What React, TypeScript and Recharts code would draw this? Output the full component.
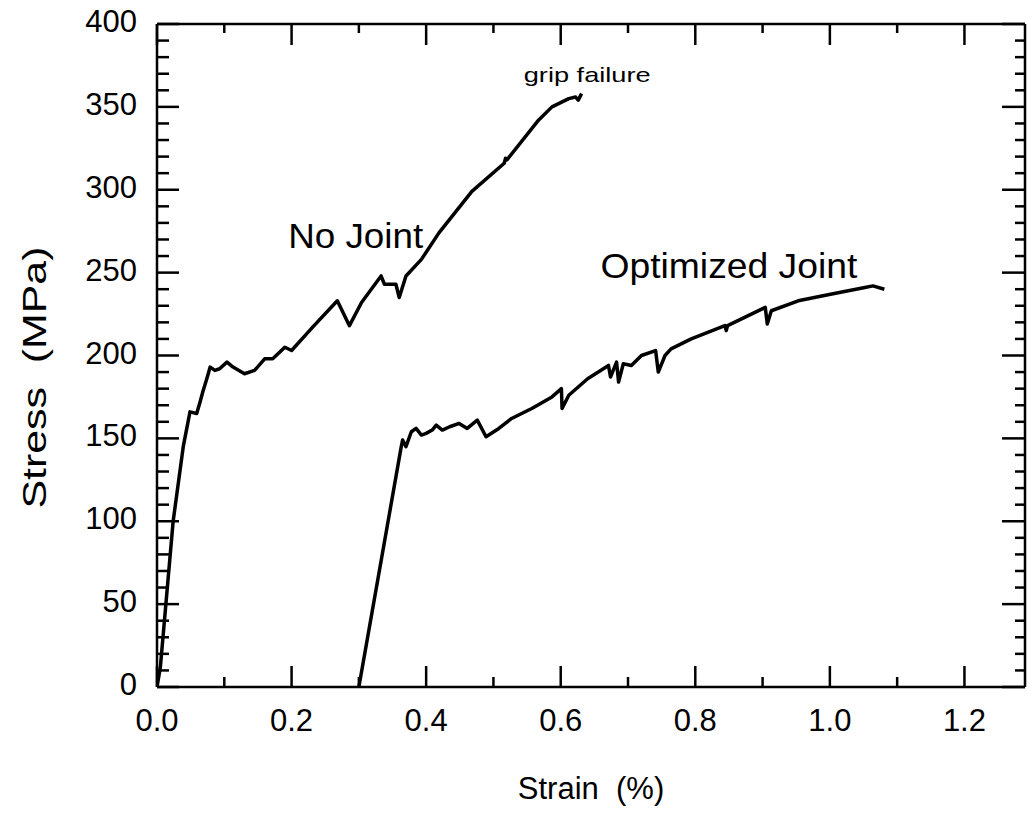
import React from 'react';
import { LineChart, Line, XAxis, YAxis, ReferenceDot, Label } from 'recharts';

const FONT = "'Liberation Sans', Arial, Helvetica, sans-serif";

// No Joint curve (strain %, stress MPa)
const noJointStrain = [0.0, 0.005, 0.024, 0.039, 0.049, 0.059, 0.064, 0.068, 0.074, 0.079, 0.086, 0.093, 0.104, 0.113, 0.13, 0.145, 0.16, 0.172, 0.19, 0.2, 0.231, 0.268, 0.286, 0.304, 0.333, 0.338, 0.355, 0.36, 0.37, 0.393, 0.419, 0.468, 0.516, 0.518, 0.52, 0.567, 0.587, 0.612, 0.622, 0.626, 0.631];
const noJointStress = [0, 12, 100, 145, 166, 165, 172, 178, 186, 193, 191, 192, 196, 193, 189, 191, 198, 198, 205, 203, 217, 233, 218, 232, 248, 243, 243, 235, 248, 258, 274, 299, 316, 319, 318, 342, 350, 355, 356, 354, 358];

// Optimized Joint curve
const optStrain = [0.3, 0.363, 0.365, 0.37, 0.378, 0.385, 0.393, 0.4, 0.409, 0.415, 0.424, 0.435, 0.449, 0.461, 0.476, 0.489, 0.508, 0.527, 0.557, 0.587, 0.601, 0.602, 0.612, 0.64, 0.671, 0.674, 0.678, 0.683, 0.686, 0.693, 0.705, 0.72, 0.741, 0.745, 0.755, 0.764, 0.794, 0.844, 0.846, 0.848, 0.904, 0.907, 0.913, 0.953, 1.001, 1.052, 1.064, 1.081];
const optStress = [0, 145, 149, 145, 154, 156, 152, 153, 155, 158, 155, 157, 159, 156, 161, 151, 156, 162, 168, 175, 180, 168, 176, 186, 194, 187, 191, 196, 184, 195, 194, 200, 203, 190, 200, 204, 210, 218, 215, 218, 229, 219, 227, 233, 237, 241, 242, 240];

const xTicks = [0, 0.1, 0.2, 0.3, 0.4, 0.5, 0.6, 0.7, 0.8, 0.9, 1.0, 1.1, 1.2];
const yTicks = [0, 10, 20, 30, 40, 50, 60, 70, 80, 90, 100, 110, 120, 130, 140, 150, 160, 170, 180, 190, 200, 210, 220, 230, 240, 250, 260, 270, 280, 290, 300, 310, 320, 330, 340, 350, 360, 370, 380, 390, 400];

const noJointData = noJointStrain.map((s, i) => ({ strain: s, stress: noJointStress[i] }));
const optData = optStrain.map((s, i) => ({ strain: s, stress: optStress[i] }));

const isMajorX = (v: number) => Math.round(v * 10) % 2 === 0;
const isMajorY = (v: number) => Math.round(v) % 50 === 0;

const BottomTick = (props: any) => {
  const { x, y, payload } = props;
  const major = isMajorX(payload.value);
  return (
    <g>
      <line x1={x} y1={y} x2={x} y2={y - (major ? 21 : 10)} stroke="#000" strokeWidth={2.5} />
      {major && (
        <text x={x} y={y + 44} textAnchor="middle" fontSize={31} fontFamily={FONT} fill="#000">
          {Number(payload.value).toFixed(1)}
        </text>
      )}
    </g>
  );
};

const TopTick = (props: any) => {
  const { x, y, payload } = props;
  const major = isMajorX(payload.value);
  return <line x1={x} y1={y} x2={x} y2={y + (major ? 21 : 9)} stroke="#000" strokeWidth={2.5} />;
};

const LeftTick = (props: any) => {
  const { x, y, payload } = props;
  const major = isMajorY(payload.value);
  return (
    <g>
      <line x1={x} y1={y} x2={x + (major ? 22 : 12)} y2={y} stroke="#000" strokeWidth={2.5} />
      {major && (
        <text x={x - 20} y={y + 8} textAnchor="end" fontSize={31} fontFamily={FONT} fill="#000">
          {payload.value}
        </text>
      )}
    </g>
  );
};

const RightTick = (props: any) => {
  const { x, y, payload } = props;
  const major = isMajorY(payload.value);
  return <line x1={x} y1={y} x2={x - (major ? 23 : 10)} y2={y} stroke="#000" strokeWidth={2.5} />;
};

const AnnText = (props: any) => {
  const { viewBox, text, size, len } = props;
  if (!viewBox) return null;
  return (
    <text x={viewBox.x} y={viewBox.y} fontSize={size} fontFamily={FONT} fill="#000" textLength={len} lengthAdjust="spacingAndGlyphs">
      {text}
    </text>
  );
};

const XTitle = (props: any) => {
  const { viewBox } = props;
  const cx = viewBox.x + viewBox.width / 2;
  return (
    <text x={cx} y={viewBox.y + 112} textAnchor="middle" fontSize={31} fontFamily={FONT} fill="#000">
      {'Strain\u00a0\u00a0(%)'}
    </text>
  );
};

const YTitle = (props: any) => {
  const { viewBox } = props;
  const cy = viewBox.y + viewBox.height / 2 + 22;
  return (
    <text transform={`translate(46, ${cy}) rotate(-90)`} textAnchor="middle" fontSize={33} fontFamily={FONT} fill="#000" textLength={262} lengthAdjust="spacingAndGlyphs">
      {'Stress\u00a0\u00a0(MPa)'}
    </text>
  );
};

export default function App() {
  return (
    <div style={{ position: 'absolute', left: 0, top: 0, background: '#fff' }}>
      <LineChart width={1028} height={817} margin={{ top: 20, right: 0, bottom: 0, left: 0 }}>
        <XAxis
          xAxisId={0}
          dataKey="strain"
          type="number"
          domain={[0, 1.29]}
          ticks={xTicks}
          interval={0}
          allowDataOverflow
          height={130}
          tickSize={0}
          tickMargin={0}
          tickLine={false}
          axisLine={{ stroke: '#000', strokeWidth: 2.5 }}
          tick={<BottomTick />}
        >
          <Label content={<XTitle />} />
        </XAxis>
        <XAxis
          xAxisId="top"
          orientation="top"
          dataKey="strain"
          type="number"
          domain={[0, 1.29]}
          ticks={xTicks}
          interval={0}
          allowDataOverflow
          height={4}
          tickSize={0}
          tickMargin={0}
          tickLine={false}
          axisLine={{ stroke: '#000', strokeWidth: 2.5 }}
          tick={<TopTick />}
        />
        <YAxis
          yAxisId={0}
          type="number"
          domain={[0, 400]}
          ticks={yTicks}
          interval={0}
          allowDataOverflow
          width={157}
          tickSize={0}
          tickMargin={0}
          tickLine={false}
          axisLine={{ stroke: '#000', strokeWidth: 2.5 }}
          tick={<LeftTick />}
        >
          <Label content={<YTitle />} />
        </YAxis>
        <YAxis
          yAxisId="right"
          orientation="right"
          type="number"
          domain={[0, 400]}
          ticks={yTicks}
          interval={0}
          allowDataOverflow
          width={3}
          tickSize={0}
          tickMargin={0}
          tickLine={false}
          axisLine={{ stroke: '#000', strokeWidth: 2.5 }}
          tick={<RightTick />}
        />
        <Line
          data={noJointData}
          dataKey="stress"
          type="linear"
          stroke="#000"
          strokeWidth={3.5}
          strokeLinejoin="round"
          dot={false}
          isAnimationActive={false}
          xAxisId={0}
          yAxisId={0}
        />
        <Line
          data={optData}
          dataKey="stress"
          type="linear"
          stroke="#000"
          strokeWidth={3.5}
          strokeLinejoin="round"
          dot={false}
          isAnimationActive={false}
          xAxisId={0}
          yAxisId={0}
        />
        <ReferenceDot x={0.195} y={265} r={0} fill="none" stroke="none" xAxisId={0} yAxisId={0} label={<AnnText text="No Joint" size={35} len={135} />} />
        <ReferenceDot x={0.659} y={247} r={0} fill="none" stroke="none" xAxisId={0} yAxisId={0} label={<AnnText text="Optimized Joint" size={35} len={257} />} />
        <ReferenceDot x={0.545} y={365} r={0} fill="none" stroke="none" xAxisId={0} yAxisId={0} label={<AnnText text="grip failure" size={21} len={127} />} />
      </LineChart>
    </div>
  );
}
